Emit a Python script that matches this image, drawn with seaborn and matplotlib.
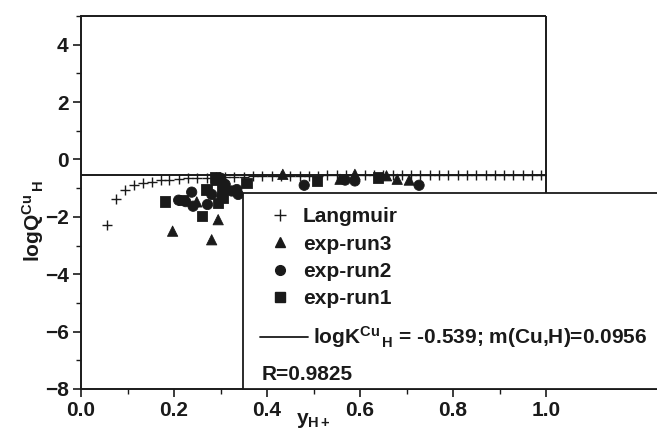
import numpy as np
import pandas as pd
import seaborn as sns
import matplotlib.pyplot as plt
from matplotlib.patches import Rectangle
from matplotlib.lines import Line2D

# Langmuir model points
lang_x = [0.055, 0.075, 0.095, 0.114, 0.133, 0.152, 0.171, 0.19, 0.21, 0.23,
          0.25, 0.27, 0.29, 0.31, 0.33, 0.35, 0.37, 0.39, 0.41, 0.43,
          0.45, 0.47, 0.49, 0.51, 0.53, 0.55, 0.57, 0.59, 0.61, 0.63,
          0.65, 0.67, 0.69, 0.71, 0.73, 0.75, 0.77, 0.79, 0.81, 0.83,
          0.85, 0.87, 0.89, 0.91, 0.93, 0.95, 0.97, 0.99]
lang_y = [-2.27, -1.38, -1.06, -0.89, -0.83, -0.77, -0.73, -0.70, -0.68, -0.66,
          -0.64, -0.63, -0.62, -0.61, -0.60, -0.595, -0.59, -0.585, -0.58, -0.575,
          -0.57, -0.57, -0.565, -0.565, -0.56, -0.56, -0.555, -0.555, -0.555, -0.55,
          -0.55, -0.55, -0.55, -0.548, -0.548, -0.547, -0.547, -0.546, -0.546, -0.545,
          -0.545, -0.545, -0.544, -0.544, -0.543, -0.543, -0.543, -0.542]

# experimental runs
run3_x = [0.197, 0.249, 0.281, 0.295, 0.31, 0.434, 0.557, 0.589, 0.657, 0.68, 0.706]
run3_y = [-2.5, -1.48, -2.8, -2.1, -0.8, -0.52, -0.69, -0.52, -0.57, -0.69, -0.72]
run2_x = [0.21, 0.225, 0.238, 0.241, 0.272, 0.281, 0.30, 0.303, 0.31, 0.324,
          0.335, 0.338, 0.48, 0.568, 0.589, 0.727]
run2_y = [-1.42, -1.47, -1.14, -1.63, -1.57, -1.22, -0.65, -1.28, -0.87, -1.1,
          -1.05, -1.22, -0.9, -0.72, -0.75, -0.9]
run1_x = [0.18, 0.22, 0.26, 0.27, 0.288, 0.29, 0.295, 0.303, 0.306, 0.356,
          0.507, 0.639]
run1_y = [-1.47, -1.42, -1.96, -1.05, -0.63, -0.7, -1.51, -1.05, -1.34, -0.83,
          -0.75, -0.63]

x_major = [0.0, 0.2, 0.4, 0.6, 0.8, 1.0]
x_minor = [0.1, 0.3, 0.5, 0.7, 0.9]
y_major = [-8, -6, -4, -2, 0, 2, 4]
y_minor = [-7, -5, -3, -1, 1, 3, 5]

logK = -0.539
fit_label = r'logK$^{Cu}$$_{\,H}$ = -0.539; m(Cu,H)=0.0956'
r_text = 'R=0.9825'

sns.set_style('ticks')
plt.rcParams['font.family'] = ['Liberation Sans', 'DejaVu Sans']
plt.rcParams['font.weight'] = 'bold'
plt.rcParams['axes.labelweight'] = 'bold'
plt.rcParams['font.size'] = 15
plt.rcParams['mathtext.fontset'] = 'custom'
plt.rcParams['mathtext.rm'] = 'Liberation Sans:bold'
plt.rcParams['mathtext.it'] = 'Liberation Sans:bold'
plt.rcParams['mathtext.bf'] = 'Liberation Sans:bold'
plt.rcParams['mathtext.default'] = 'rm'

ink = '#1a1a1a'
ymin, ymax = -8, 5
xmax_plot = 1.0
xmax_axes = 1.2452   # axes run on past the canvas edge, like the legend box
box_left, box_top = 0.348, -1.175

fig = plt.figure(figsize=(6.57, 4.47), dpi=100)
ax = fig.add_axes([0.1233, 0.1298, 0.8813, 0.8345])

df = pd.concat([
    pd.DataFrame({'x': run3_x, 'y': run3_y, 'run': 'exp-run3'}),
    pd.DataFrame({'x': run2_x, 'y': run2_y, 'run': 'exp-run2'}),
    pd.DataFrame({'x': run1_x, 'y': run1_y, 'run': 'exp-run1'}),
])

ax.hlines(logK, 0, xmax_plot, color=ink, lw=1.4, zorder=1)
sns.scatterplot(x=lang_x, y=lang_y, marker='+', color=ink, s=45, linewidth=1.0,
                ax=ax, legend=False, zorder=3)
sns.scatterplot(data=df, x='x', y='y', style='run',
                markers={'exp-run3': '^', 'exp-run2': 'o', 'exp-run1': 's'},
                color=ink, s=55, edgecolor=ink, ax=ax, legend=False, zorder=2)

ax.set_xlim(0, xmax_axes)
ax.set_ylim(ymin, ymax)
ax.set_xticks(x_major)
ax.set_xticks(x_minor, minor=True)
ax.set_yticks(y_major)
ax.set_yticks(y_minor, minor=True)
ax.tick_params(which='major', length=6, width=1.2, colors=ink, labelsize=15, pad=3)
ax.tick_params(which='minor', length=3.5, width=1.0, colors=ink)
for name in ['left', 'bottom']:
    ax.spines[name].set_visible(True)
    ax.spines[name].set_color(ink)
    ax.spines[name].set_linewidth(1.4)
ax.spines['top'].set_visible(False)
ax.spines['right'].set_visible(False)
# frame of the plot area: top edge and the part of the right edge above the box
ax.hlines(ymax, 0, xmax_plot, color=ink, lw=1.4, clip_on=False, zorder=2.5)
ax.vlines(xmax_plot, box_top, ymax, color=ink, lw=1.4, clip_on=False, zorder=2.5)

ax.set_xlabel(r'y$_{H+}$', fontsize=15, color=ink, labelpad=5)
ax.xaxis.set_label_coords(0.5 * xmax_plot / xmax_axes, -0.06)
ax.xaxis.get_label().set_va('top')
ax.set_ylabel(r'logQ$^{Cu}$$_{\,H}$', fontsize=15, color=ink)
ax.yaxis.set_label_coords(-0.0605, 0.45)

# legend box
box = Rectangle((box_left, ymin), 1.0, box_top - ymin, transform=ax.transData,
                facecolor='white', edgecolor=ink, lw=1.3, clip_on=False, zorder=4.5)
ax.add_patch(box)

handles = [
    Line2D([], [], ls='none', marker='+', color=ink, ms=8, mew=1.0),
    Line2D([], [], ls='none', marker='^', color=ink, ms=7),
    Line2D([], [], ls='none', marker='o', color=ink, ms=7),
    Line2D([], [], ls='none', marker='s', color=ink, ms=6.5),
]
labels = ['Langmuir', 'exp-run3', 'exp-run2', 'exp-run1']
leg = ax.legend(handles, labels, loc='upper left', bbox_to_anchor=(0.383, -1.669),
                bbox_transform=ax.transData, frameon=False, borderpad=0,
                borderaxespad=0, handlelength=2.0, handletextpad=0.1,
                labelspacing=0.4, fontsize=15)
leg.set_zorder(5)
ax.add_artist(leg)

leg2 = ax.legend([Line2D([], [], color=ink, lw=1.3)], [fit_label], loc='center left',
                 bbox_to_anchor=(0.385, -6.193), bbox_transform=ax.transData,
                 frameon=False, borderpad=0, borderaxespad=0, handlelength=2.3,
                 handletextpad=0.25, fontsize=15)
leg2.set_zorder(5)
for t in list(leg.get_texts()) + list(leg2.get_texts()):
    t.set_color(ink)

ax.text(0.389, -7.48, r_text, ha='left', va='center', fontsize=15, color=ink, zorder=6)

fig.savefig('out.png', dpi=100)
